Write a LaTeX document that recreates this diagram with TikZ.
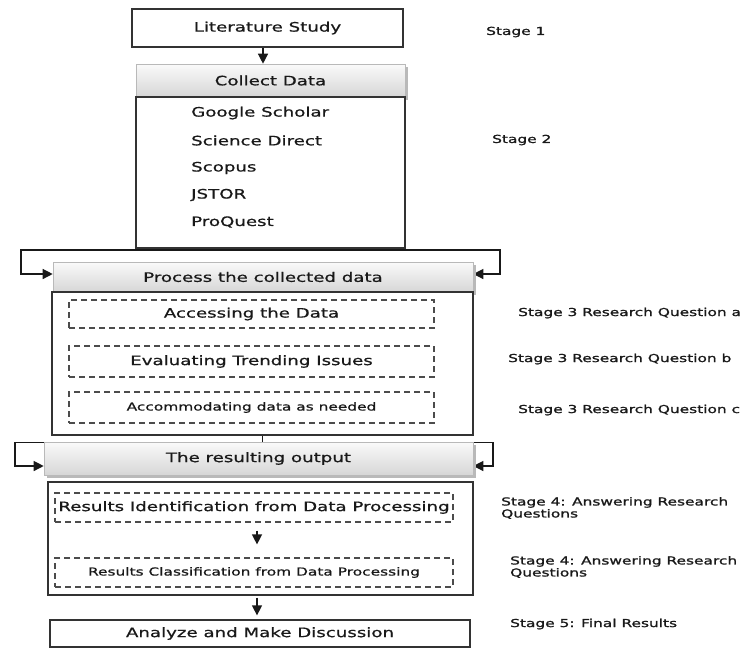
\documentclass[tikz,border=0pt]{standalone}
\usepackage{fontspec}
\setmainfont[FakeStretch=1.4,FakeBold=0.7]{DejaVu Sans}
\newfontfamily\stagefont[FakeStretch=1.4,FakeBold=1.2]{DejaVu Sans}
\usetikzlibrary{arrows.meta,shadows,backgrounds}
\newcommand\fsz[1]{\fontsize{#1}{12}\selectfont}
\tikzset{
 every node/.style={text=black!90, inner sep=0pt},
 box/.style={draw=black!80, line width=1.3pt, fill=white},
 head/.style={draw=gray!55, line width=0.6pt, top color=gray!4, bottom color=gray!32,
   drop shadow={shadow xshift=2.5pt, shadow yshift=-2.5pt, fill=gray!55, opacity=1}},
 dbox/.style={draw=black!70, line width=1.2pt, dash pattern=on 6pt off 4pt},
 arr/.style={line width=1.3pt, draw=black!90, -{Triangle[width=10pt,length=10pt]}},
 stage/.style={anchor=west, font=\stagefont\fsz{11}, align=left},
 big/.style={font=\fsz{13}},
 small/.style={font=\fsz{11}},
 item/.style={anchor=west, font=\fsz{13}},
}
\begin{document}
\begin{tikzpicture}[x=1pt,y=-1pt]
\useasboundingbox (0,0) rectangle (746,649);
% stage 1-2
\node[box, big, minimum width=271, minimum height=38] (lit) at (267.5,28) {Literature Study};
\node[head, big, minimum width=269, minimum height=33] (colh) at (270.5,80.5) {Collect Data};
\node[box, minimum width=269, minimum height=151] (colb) at (270.5,172.5) {};
\node[item] (g1) at (191,113) {Google Scholar};
\node[item] (g2) at (191,140.5) {Science Direct};
\node[item] (g3) at (191,168) {Scopus};
\node[item] (g4) at (191,195) {JSTOR};
\node[item] (g5) at (191,222) {ProQuest};
% stage 3
\node[head, big, minimum width=420, minimum height=30] (proch) at (263,277) {Process the collected data};
\node[box, minimum width=421, minimum height=143] (procb) at (262.5,363.5) {};
\node[dbox, big, minimum width=365, minimum height=28] (p1) at (251.5,314) {Accessing the Data};
\node[dbox, big, minimum width=365, minimum height=31] (p2) at (251.5,361.5) {Evaluating Trending Issues};
\node[dbox, small, minimum width=365, minimum height=31] (p3) at (251.5,407.5) {Accommodating data as needed};
% stage 4
\node[head, big, minimum width=429, minimum height=33] (resh) at (258.5,458.5) {The resulting output};
\node[box, minimum width=425, minimum height=113] (resb) at (260.5,538.5) {};
\node[dbox, big, minimum width=398, minimum height=29] (r1) at (254,507.5) {Results Identification from Data Processing};
\node[dbox, small, minimum width=398, minimum height=29] (r2) at (254,572.5) {Results Classification from Data Processing};
% stage 5
\node[box, big, minimum width=420, minimum height=27] (ana) at (260,633.5) {Analyze and Make Discussion};
% stage labels
\node[stage] (s1) at (486,32) {Stage 1};
\node[stage] (s2) at (492,140) {Stage 2};
\node[stage] (s3a) at (518,313) {Stage 3 Research Question a};
\node[stage] (s3b) at (508,359) {Stage 3 Research Question b};
\node[stage] (s3c) at (518,410) {Stage 3 Research Question c};
\node[stage] (s4a) at (501,508) {Stage 4: Answering Research\\Questions};
\node[stage] (s4b) at (510,567) {Stage 4: Answering Research\\Questions};
\node[stage] (s5) at (510,624) {Stage 5: Final Results};
% helper coordinates
\coordinate (la) at (21,250);
\coordinate (ra) at (500,250);
\coordinate (ya) at (0,274);
\coordinate (lb) at (15,442.5);
\coordinate (rb) at (493,442.5);
\coordinate (yb) at (0,466);
\begin{pgfonlayer}{background}
\draw[arr] (lit.south -| 263,0) -- (colh.north -| 263,0);
\draw[arr] (colb.south) |- (la) |- (proch.west |- ya);
\draw[arr] (colb.south) |- (ra) |- (proch.east |- ya);
\draw[arr] (procb.south) |- (lb) |- (resh.west |- yb);
\draw[arr] (procb.south) |- (rb) |- (resh.east |- yb);
\end{pgfonlayer}
\draw[arr, shorten <=8pt, shorten >=13pt] (r1.south -| 257,0) -- (r2.north -| 257,0);
\draw[arr, shorten <=2pt, shorten >=4pt] (resb.south -| 257,0) -- (ana.north -| 257,0);
\end{tikzpicture}
\end{document}
